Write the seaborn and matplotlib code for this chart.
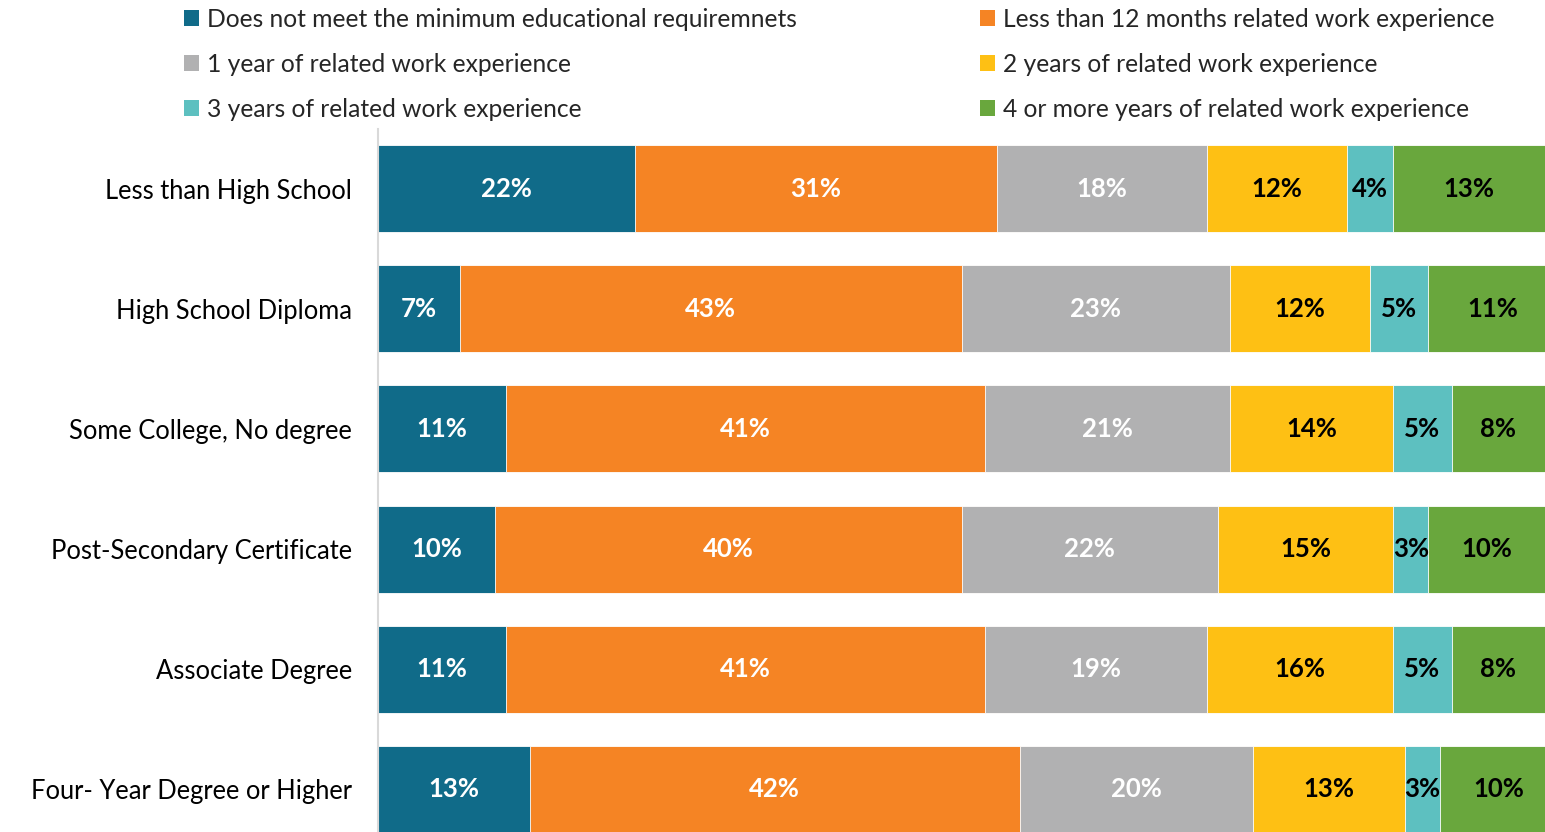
import matplotlib
matplotlib.use("Agg")
import matplotlib.pyplot as plt
from matplotlib.patches import Patch
import seaborn as sns
import pandas as pd
import numpy as np

levels = [
    "Less than High School",
    "High School Diploma",
    "Some College, No degree",
    "Post-Secondary Certificate",
    "Associate Degree",
    "Four- Year Degree or Higher",
]
series = [
    "Does not meet the minimum educational requiremnets",
    "Less than 12 months related work experience",
    "1 year of related work experience",
    "2 years of related work experience",
    "3 years of related work experience",
    "4 or more years of related work experience",
]
not_meet = [22, 7, 11, 10, 11, 13]
lt_12_months = [31, 43, 41, 40, 41, 42]
one_year = [18, 23, 21, 22, 19, 20]
two_years = [12, 12, 14, 15, 16, 13]
three_years = [4, 5, 5, 3, 5, 3]
four_plus = [13, 11, 8, 10, 8, 10]

colors = ["#106B89", "#F58424", "#B1B1B2", "#FEC014", "#5DC0C0", "#69A73D"]
label_colors = ["white", "white", "white", "black", "black", "black"]

values = np.array([not_meet, lt_12_months, one_year, two_years, three_years, four_plus])
cum = values.cumsum(axis=0)

rows = []
for si, s in enumerate(series):
    for li, lv in enumerate(levels):
        rows.append({"level": lv, "series": s, "value": values[si, li],
                     "end": cum[si, li], "mid": cum[si, li] - values[si, li] / 2})
df = pd.DataFrame(rows)

sns.set_theme(style="white")
plt.rcParams["font.family"] = ["Lato", "DejaVu Sans"]

fig = plt.figure(figsize=(15.45, 8.32), dpi=100)
ax = fig.add_axes([378 / 1545, -17.5 / 832, 1167 / 1545, 721 / 832])

# stacked bars: draw cumulative totals back to front so shorter ones sit on top
sns.barplot(data=df, x="end", y="level", hue="series",
            hue_order=series[::-1], order=levels,
            palette=dict(zip(series, colors)), dodge=False,
            width=0.725, edgecolor="white", linewidth=0.6,
            saturation=1, legend=False, ax=ax)

for _, r in df.iterrows():
    si = series.index(r["series"])
    li = levels.index(r["level"])
    ax.text(r["mid"], li, f"{r['value']}%", ha="center", va="center",
            fontsize=18.5, fontweight="bold", color=label_colors[si])

ax.set_xlim(0, 100)
ax.set_ylim(5.5, -0.5)
ax.set_xlabel("")
ax.set_ylabel("")
ax.set_xticks([])
ax.tick_params(axis="y", length=0, pad=18.5, labelsize=18.4, labelcolor="black")
for side in ["top", "right", "bottom"]:
    ax.spines[side].set_visible(False)
ax.spines["left"].set_color("#D9D9D9")
ax.spines["left"].set_linewidth(1.5)

handles = [Patch(facecolor=c, edgecolor="none") for c in colors]
common = dict(frameon=False, fontsize=17.7, handlelength=0.62, handleheight=0.62,
              handletextpad=0.3, labelspacing=0.89, borderaxespad=0, borderpad=0)
fig.legend([handles[i] for i in (0, 2, 4)], [series[i] for i in (0, 2, 4)],
           loc="upper left", bbox_to_anchor=(184 / 1545, 1 - 8 / 832), **common)
fig.legend([handles[i] for i in (1, 3, 5)], [series[i] for i in (1, 3, 5)],
           loc="upper left", bbox_to_anchor=(980 / 1545, 1 - 8 / 832), **common)

fig.savefig("out.png", dpi=100)
